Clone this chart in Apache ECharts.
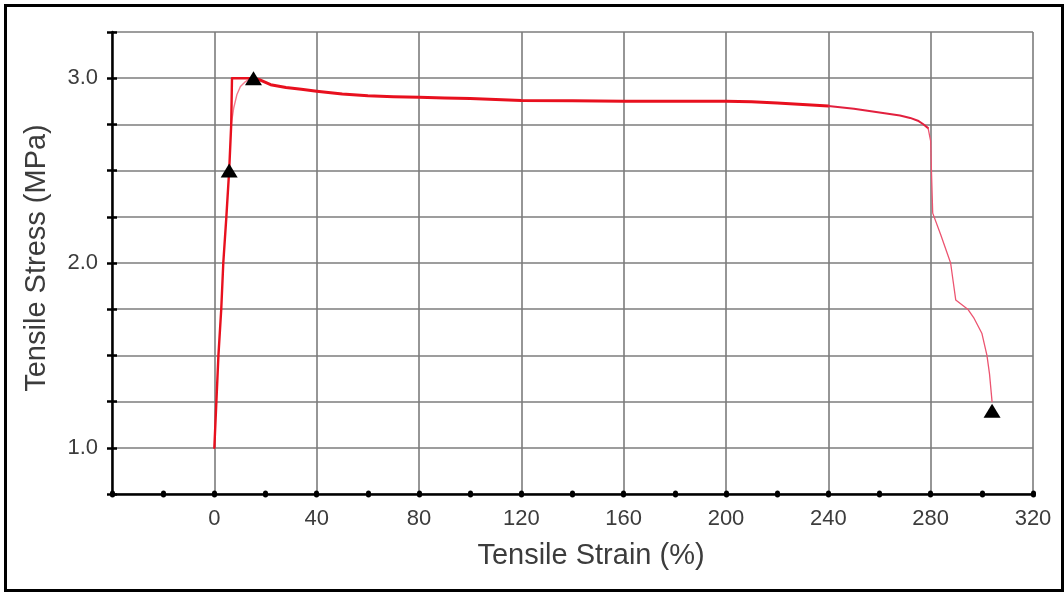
<!DOCTYPE html>
<html>
<head>
<meta charset="utf-8">
<title>Tensile Stress vs Strain</title>
<script src="https://cdn.jsdelivr.net/npm/echarts@6/dist/echarts.min.js"></script>
<style>
  html, body { margin: 0; padding: 0; background: #ffffff; }
  #chart { width: 1064px; height: 592px; }
</style>
</head>
<body>
<div id="chart"></div>
<script>
// Axis settings
const xMin = -40, xMax = 320, xTickStep = 20, xGridStep = 40;
const yMin = 0.75, yMax = 3.25, yStep = 0.25;
const yLabelValues = [1.0, 2.0, 3.0];

// Loading curve: strain (%) and stress (MPa)
const riseStrain = [0, 0.8, 1.6, 2.7, 3.5, 4.7, 5.8, 6.6, 6.9, 10, 13, 15.3];
const riseStress = [1.0, 1.25, 1.5, 1.75, 2.0, 2.25, 2.5, 2.75, 3.0, 3.0, 3.0, 3.0];

// Secondary trace bending over to the yield peak
const bendStrain = [6.6, 7.6, 8.8, 10.2, 12, 13.8, 15.3];
const bendStress = [2.75, 2.84, 2.91, 2.955, 2.98, 2.995, 3.0];

// Drawing plateau after yield
const plateauStrain = [15.3, 18, 22, 28, 34, 40, 50, 60, 70, 80, 90, 100, 110, 120, 140, 160, 180, 200, 210, 220, 230, 240];
const plateauStress = [3.0, 2.99, 2.965, 2.95, 2.94, 2.93, 2.915, 2.905, 2.9, 2.897, 2.893, 2.89, 2.885, 2.88, 2.878, 2.875, 2.875, 2.875, 2.872, 2.866, 2.858, 2.85];

// Necking region before rupture
const neckStrain = [240, 250, 256, 262, 268, 272, 275, 277, 279];
const neckStress = [2.85, 2.835, 2.822, 2.81, 2.798, 2.785, 2.77, 2.752, 2.73];

// Rupture tail
const tailStrain = [279, 280, 280.3, 280.8, 284, 287.8, 288.8, 289.8, 294.5, 297, 300, 302, 303, 304];
const tailStress = [2.73, 2.66, 2.5, 2.27, 2.15, 2.0, 1.9, 1.8, 1.75, 1.7, 1.62, 1.5, 1.4, 1.25];

// Marked points: proportional limit, yield, break
const markStrain = [5.8, 15.3, 304];
const markStress = [2.5, 3.0, 1.2];

const pairs = (xs, ys) => xs.map((x, i) => [x, ys[i]]);

const FONT = 'Liberation Sans';
const LABEL_COLOR = '#3c3c3c';
const GRID_COLOR = '#7c7c7c';

const chart = echarts.init(document.getElementById('chart'), null, { renderer: 'canvas' });

const lineSeries = (name, data, color, width) => ({
  name, type: 'line', data, xAxisIndex: 0, yAxisIndex: 0,
  showSymbol: false, symbol: 'none', smooth: false,
  lineStyle: { color, width, join: 'round', cap: 'round' },
  z: 5, silent: true, animation: false
});

chart.setOption({
  backgroundColor: '#ffffff',
  animation: false,
  grid: { left: 112, right: 31, top: 32, bottom: 98, containLabel: false },
  xAxis: [
    {
      // grid lines and labels every 40 %
      type: 'value', min: xMin, max: xMax, interval: xGridStep,
      axisLine: { show: true, onZero: false, lineStyle: { color: '#000', width: 2.5 } },
      axisTick: { show: false },
      axisLabel: {
        margin: 14, fontFamily: FONT, fontSize: 22, color: LABEL_COLOR,
        formatter: v => (v < 0 ? '' : String(v))
      },
      splitLine: { show: true, lineStyle: { color: GRID_COLOR, width: 1.6 } }
    },
    {
      // tick dots every 20 %, below the axis
      type: 'value', min: xMin, max: xMax, interval: xTickStep, position: 'bottom',
      axisLine: { show: false, onZero: false },
      axisTick: { show: true, inside: false, length: 1, lineStyle: { color: '#000', width: 5, cap: 'round' } },
      axisLabel: { show: false }, splitLine: { show: false }
    },
    {
      // tick dots every 20 %, above the axis
      type: 'value', min: xMin, max: xMax, interval: xTickStep, position: 'bottom',
      axisLine: { show: false, onZero: false },
      axisTick: { show: true, inside: true, length: 1, lineStyle: { color: '#000', width: 5, cap: 'round' } },
      axisLabel: { show: false }, splitLine: { show: false }
    }
  ],
  yAxis: [
    {
      type: 'value', min: yMin, max: yMax, interval: yStep, position: 'left',
      axisLine: { show: true, onZero: false, lineStyle: { color: '#000', width: 2.5 } },
      axisTick: { show: true, inside: false, length: 5, lineStyle: { color: '#000', width: 2.5 } },
      axisLabel: {
        margin: 14, fontFamily: FONT, fontSize: 22, color: LABEL_COLOR,
        formatter: v => (yLabelValues.some(t => Math.abs(t - v) < 1e-6) ? v.toFixed(1) : '')
      },
      splitLine: { show: true, lineStyle: { color: GRID_COLOR, width: 1.6 } }
    },
    {
      type: 'value', min: yMin, max: yMax, interval: yStep, position: 'left',
      axisLine: { show: false, onZero: false },
      axisTick: { show: true, inside: true, length: 5, lineStyle: { color: '#000', width: 2.5 } },
      axisLabel: { show: false }, splitLine: { show: false }
    }
  ],
  series: [
    lineSeries('bend', pairs(bendStrain, bendStress), '#f47a8c', 1.4),
    lineSeries('rise', pairs(riseStrain, riseStress), '#e8101e', 2.4),
    lineSeries('plateau', pairs(plateauStrain, plateauStress), '#e8101e', 3),
    lineSeries('necking', pairs(neckStrain, neckStress), '#e2203e', 2),
    lineSeries('rupture', pairs(tailStrain, tailStress), '#ec5470', 1.3),
    {
      name: 'marks', type: 'scatter', data: pairs(markStrain, markStress),
      symbol: 'triangle', symbolSize: [17, 14],
      itemStyle: { color: '#000000', opacity: 1 }, z: 10, silent: true
    }
  ],
  graphic: [
    {
      type: 'rect', left: 3, top: 3, z: 100, silent: true,
      shape: { width: 1057, height: 585 },
      style: { fill: 'none', stroke: '#000', lineWidth: 3 }
    },
    {
      type: 'text', x: 591, y: 556, silent: true,
      style: {
        text: 'Tensile Strain (%)', font: '29px "Liberation Sans"', fill: LABEL_COLOR,
        textAlign: 'center', textVerticalAlign: 'middle'
      }
    },
    {
      type: 'text', x: 37, y: 258, rotation: Math.PI / 2, silent: true,
      style: {
        text: 'Tensile Stress (MPa)', font: '29px "Liberation Sans"', fill: LABEL_COLOR,
        textAlign: 'center', textVerticalAlign: 'middle'
      }
    }
  ]
});
</script>
</body>
</html>
